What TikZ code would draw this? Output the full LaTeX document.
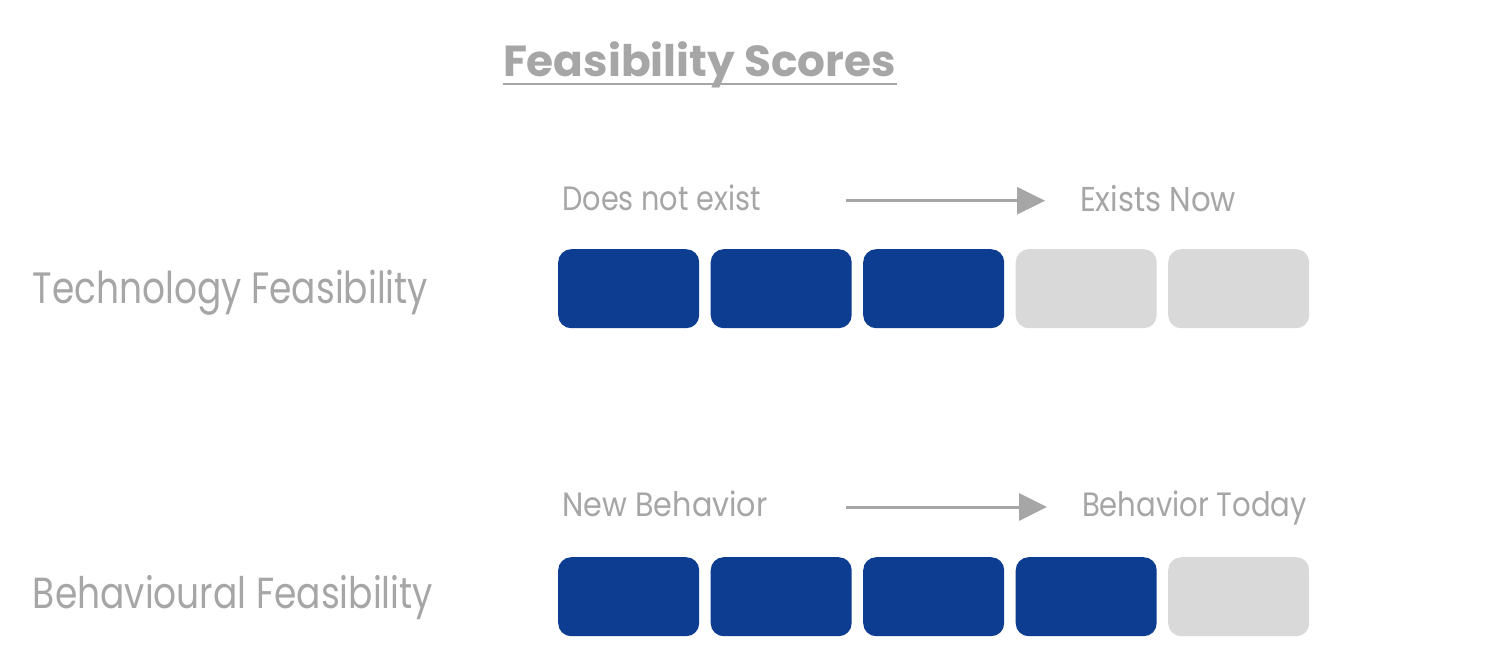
\documentclass[tikz,border=0pt]{standalone}
\usepackage{fontspec}
\setmainfont{Poppins}
\usepackage{graphicx}
\usetikzlibrary{arrows.meta}
\definecolor{txtgray}{HTML}{A6A6A6}
\definecolor{arrgray}{HTML}{A6A6A6}
\definecolor{scoreblue}{RGB}{13,61,145}
\definecolor{emptygray}{HTML}{D9D9D9}
\newsavebox\fbA
\newsavebox\fbB
\newlength\fbh
\newlength\fbd
% #1 ink width, #2 cap height, #3 text
\newcommand\fitbox[3]{\sbox\fbA{#3}\sbox\fbB{H}\setlength\fbh{\ht\fbB}\setlength\fbd{\dp\fbA}\resizebox{#1}{#2}{\raisebox{0pt}[\fbh][\fbd]{\usebox\fbA}}}
\tikzset{
  lbl/.style={inner sep=0pt, outer sep=0pt, anchor=base west, text=txtgray},
  filled/.style={fill=scoreblue, rounded corners=13pt, minimum width=141pt, minimum height=79pt, inner sep=0pt, anchor=north west},
  empty/.style={fill=emptygray, rounded corners=13pt, minimum width=141pt, minimum height=79pt, inner sep=0pt, anchor=north west},
  scalearrow/.style={draw=arrgray, line width=3pt, -{Triangle[length=28pt,width=27pt]}},
}
\begin{document}
\begin{tikzpicture}[x=1pt,y=1pt]
\useasboundingbox[fill=white] (0,0) rectangle (1500,-658);

% title
\node[lbl, font=\bfseries] (title) at (503,-76.7) {\fitbox{393pt}{30.5pt}{Feasibility Scores}};
\draw[draw=txtgray, line width=2pt] ([xshift=-0.5pt,yshift=-7.3pt]title.base west) -- ([xshift=1pt,yshift=-7.3pt]title.base east);

% row labels
\node[lbl] (techlbl) at (33,-303.3) {\fitbox{395pt}{30.6pt}{Technology Feasibility}};
\node[lbl] (behlbl) at (33,-608.3) {\fitbox{400pt}{30.3pt}{Behavioural Feasibility}};

% scale ends row 1
\node[lbl] (t1) at (562.5,-211) {\fitbox{198pt}{23.5pt}{Does not exist}};
\node[lbl] (t2) at (1080,-211) {\fitbox{156pt}{24pt}{Exists Now}};
\coordinate (ta) at (846,-200.7);
\coordinate (tb) at (1045,-200.7);
\draw[scalearrow] (ta) -- (tb);

% scale ends row 2
\node[lbl] (b1) at (562.5,-516) {\fitbox{205pt}{23.5pt}{New Behavior}};
\node[lbl] (b2) at (1082,-516) {\fitbox{225pt}{23.5pt}{Behavior Today}};
\coordinate (ba) at (846,-507);
\coordinate (bb) at (1047,-507);
\draw[scalearrow] (ba) -- (bb);

% boxes row 1
\node[filled] (r1a) at (558,-249) {};
\node[filled] (r1b) at (710.5,-249) {};
\node[filled] (r1c) at (863,-249) {};
\node[empty]  (r1d) at (1015.5,-249) {};
\node[empty]  (r1e) at (1168,-249) {};

% boxes row 2
\node[filled] (r2a) at (558,-557) {};
\node[filled] (r2b) at (710.5,-557) {};
\node[filled] (r2c) at (863,-557) {};
\node[filled] (r2d) at (1015.5,-557) {};
\node[empty]  (r2e) at (1168,-557) {};
\end{tikzpicture}
\end{document}
